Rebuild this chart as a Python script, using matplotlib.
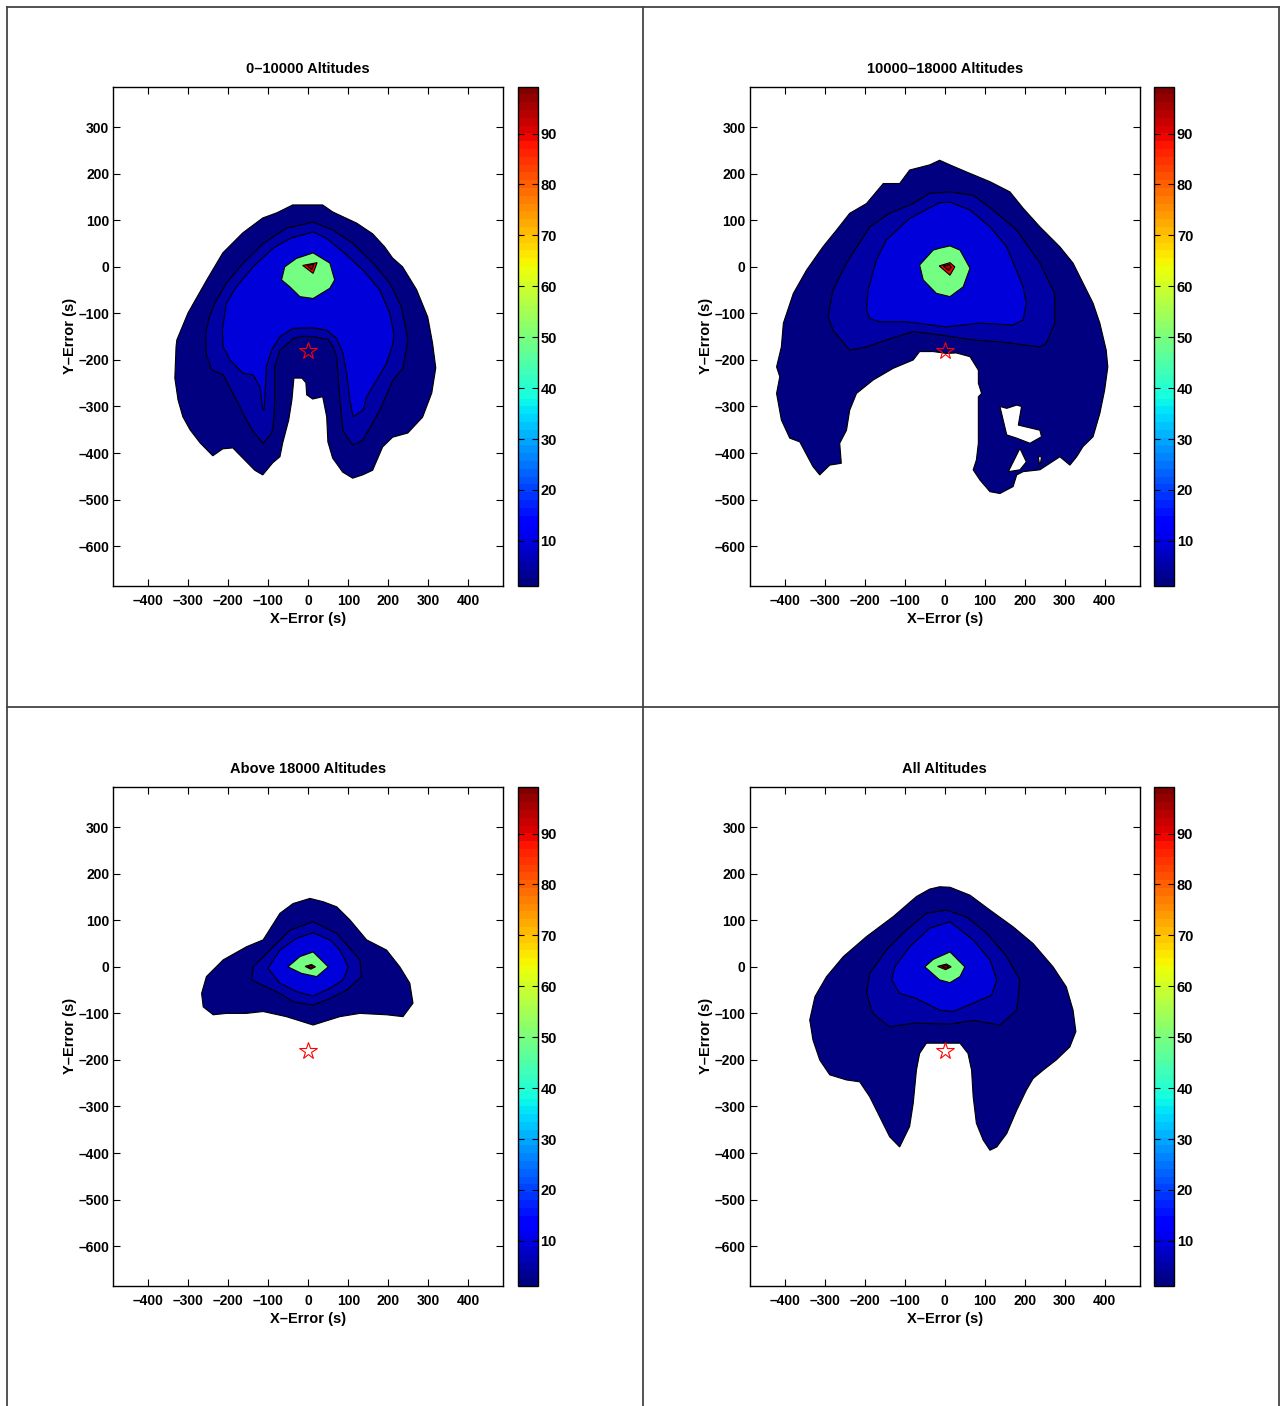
import matplotlib
matplotlib.use("Agg")
import matplotlib.pyplot as plt
from matplotlib.lines import Line2D
from matplotlib.colors import Normalize
from matplotlib.cm import ScalarMappable
from matplotlib.ticker import FuncFormatter

plt.rcParams['font.family'] = ['Liberation Sans', 'DejaVu Sans']
plt.rcParams['font.weight'] = 'bold'
plt.rcParams['font.size'] = 10

# contour levels (percent of hits) and colour range
levels = [1.2, 5, 10, 50, 90, 95]
c_min, c_max = 1.2, 99.2
x_ticks = [-400, -300, -200, -100, 0, 100, 200, 300, 400]
y_ticks = [-600, -500, -400, -300, -200, -100, 0, 100, 200, 300]
cbar_ticks = [10, 20, 30, 40, 50, 60, 70, 80, 90]
x_range = (-488, 488)
y_range = (-685, 387)
star_xy = (0, -180)

titles = ['0\u201310000 Altitudes', '10000\u201318000 Altitudes',
          'Above 18000 Altitudes', 'All Altitudes']

# ---- 0-10000 ----
low_l1 = [(-39, 133), (36, 133), (61, 118), (121, 94), (161, 71), (191, 43), (211, 19),
          (236, 0), (271, -49), (299, -108), (311, -164), (319, -217), (309, -271),
          (286, -323), (249, -357), (211, -366), (186, -387), (161, -437), (136, -447),
          (111, -454), (86, -441), (61, -411), (49, -376), (46, -322), (36, -279),
          (11, -284), (-4, -275), (-6, -249), (-16, -239), (-36, -239), (-41, -286),
          (-49, -329), (-64, -378), (-71, -408), (-89, -421), (-114, -447), (-134, -437),
          (-189, -389), (-214, -391), (-239, -406), (-271, -378), (-296, -350),
          (-314, -322), (-326, -286), (-334, -239), (-331, -172), (-329, -157),
          (-301, -99), (-254, -28), (-214, 30), (-164, 73), (-114, 105), (-79, 116)]
low_l5 = [(12, 96), (62, 79), (112, 50), (162, 8), (204, -35), (233, -86), (246, -143),
          (249, -157), (237, -218), (212, -243), (179, -308), (146, -358), (137, -372),
          (112, -383), (96, -365), (87, -351), (79, -286), (71, -193), (62, -172),
          (50, -156), (12, -150), (-13, -149), (-38, -154), (-71, -179), (-84, -215),
          (-84, -286), (-88, -343), (-92, -358), (-113, -379), (-134, -358), (-155, -329),
          (-180, -286), (-213, -232), (-242, -221), (-255, -189), (-257, -143),
          (-247, -107), (-234, -78), (-205, -35), (-163, 8), (-113, 50), (-55, 83)]
low_l10 = [(12, 75), (46, 61), (87, 32), (137, -7), (179, -50), (204, -100), (214, -143),
           (212, -164), (196, -207), (171, -243), (146, -279), (137, -308), (112, -322),
           (104, -286), (96, -229), (87, -186), (71, -154), (46, -136), (12, -131),
           (-38, -132), (-71, -150), (-92, -179), (-105, -215), (-109, -286),
           (-111, -308), (-115, -301), (-121, -258), (-138, -232), (-163, -229),
           (-196, -200), (-213, -172), (-215, -136), (-205, -78), (-180, -43),
           (-138, 0), (-88, 40), (-46, 61)]
low_l50 = [(12, 30), (54, 8), (66, -28), (54, -46), (12, -68), (-21, -64), (-46, -43),
           (-67, -28), (-59, 0), (-30, 18)]
low_l90 = [(-14, 3), (22, 9), (12, -14)]
low_l95 = [(-3, 3), (14, 6), (9, -6)]

# ---- 10000-18000 ----
mid_l1 = [(-13, 229), (13, 219), (54, 204), (113, 183), (163, 161), (196, 126), (238, 86),
          (288, 43), (321, 8), (346, -35), (371, -78), (388, -121), (404, -179),
          (408, -215), (400, -265), (388, -315), (371, -365), (346, -386), (330, -408),
          (313, -426), (288, -408), (238, -436), (196, -440), (180, -447), (171, -472),
          (138, -487), (113, -483), (88, -458), (71, -436), (79, -415), (84, -379),
          (84, -279), (92, -272), (84, -250), (84, -222), (63, -193), (29, -185),
          (4, -186), (-29, -182), (-63, -182), (-79, -200), (-129, -218), (-179, -243),
          (-221, -272), (-238, -308), (-246, -351), (-263, -379), (-259, -422),
          (-288, -426), (-313, -447), (-330, -429), (-363, -376), (-388, -368),
          (-409, -329), (-421, -272), (-413, -236), (-421, -215), (-409, -172),
          (-404, -121), (-379, -57), (-346, -7), (-305, 43), (-271, 79), (-238, 115),
          (-196, 136), (-154, 179), (-113, 179), (-88, 208), (-38, 219)]
mid_hole1 = [(138, -300), (155, -304), (180, -297), (192, -300), (184, -340), (238, -351),
             (242, -365), (213, -379), (180, -368), (155, -361), (150, -343)]
mid_hole2 = [(188, -390), (204, -419), (188, -436), (159, -440), (180, -404)]
mid_hole3 = [(234, -408), (242, -408), (238, -429)]
mid_l5 = [(13, 161), (-38, 158), (-79, 136), (-138, 115), (-188, 86), (-246, 8),
          (-280, -50), (-292, -107), (-280, -136), (-238, -179), (-196, -172),
          (-146, -157), (-79, -139), (-13, -146), (71, -157), (138, -161), (238, -172),
          (254, -164), (275, -121), (275, -57), (238, 8), (180, 79), (121, 122), (71, 154)]
mid_l10 = [(13, 139), (-13, 138), (-88, 104), (-146, 58), (-171, 15), (-192, -50),
           (-196, -93), (-188, -111), (-163, -118), (-96, -118), (4, -129), (88, -121),
           (171, -125), (196, -114), (204, -78), (196, -43), (155, 43), (113, 86), (63, 122)]
mid_l50 = [(13, 45), (38, 36), (63, -3), (46, -43), (13, -64), (-21, -57), (-54, -28),
           (-63, 4), (-29, 36), (-13, 40)]
mid_l90 = [(-14, 2), (13, 9), (25, 0), (13, -18)]
mid_l95 = [(-4, 2), (12, 5), (16, -1), (10, -8)]

# ---- above 18000 ----
high_l1 = [(4, 147), (37, 140), (71, 129), (104, 101), (146, 58), (196, 36), (229, 0),
           (254, -35), (262, -78), (237, -107), (196, -103), (129, -100), (79, -107),
           (12, -125), (-55, -107), (-113, -96), (-155, -100), (-205, -100), (-238, -103),
           (-263, -86), (-267, -57), (-255, -21), (-213, 15), (-155, 43), (-113, 58),
           (-71, 115), (-38, 136)]
high_l5 = [(12, 97), (71, 72), (129, 15), (133, -21), (96, -50), (54, -68), (12, -82),
           (-38, -75), (-71, -57), (-142, -28), (-138, 0), (-96, 36), (-46, 79)]
high_l10 = [(12, 73), (54, 58), (79, 36), (100, 0), (87, -28), (54, -46), (12, -63),
            (-30, -53), (-71, -35), (-101, -3), (-71, 36), (-30, 61)]
high_l50 = [(12, 32), (50, 0), (21, -21), (-17, -14), (-51, 0), (-21, 22)]
high_l90 = [(-8, 1), (8, 5), (18, 0), (6, -5)]
high_l95 = [(-2, 1), (8, 3), (12, 0), (5, -3)]

# ---- all altitudes ----
all_l1 = [(-13, 172), (13, 171), (63, 154), (113, 122), (171, 86), (221, 50), (271, 0),
          (304, -43), (321, -93), (328, -139), (313, -172), (279, -200), (246, -222),
          (221, -240), (204, -265), (180, -308), (155, -358), (130, -387), (113, -394),
          (96, -372), (79, -336), (71, -279), (67, -222), (58, -186), (38, -164),
          (-46, -164), (-63, -186), (-71, -222), (-79, -293), (-88, -343), (-113, -387),
          (-138, -365), (-163, -322), (-188, -279), (-213, -247), (-246, -243),
          (-288, -232), (-313, -200), (-330, -157), (-338, -114), (-325, -64),
          (-296, -21), (-254, 22), (-196, 65), (-129, 108), (-71, 151), (-38, 167)]
all_l5 = [(4, 122), (-46, 115), (-96, 79), (-146, 36), (-188, -14), (-196, -57),
          (-180, -100), (-138, -129), (-79, -121), (13, -123), (71, -115), (138, -125),
          (180, -93), (188, -28), (155, 22), (105, 72), (54, 107)]
all_l10 = [(13, 97), (-38, 83), (-88, 43), (-125, 0), (-133, -28), (-113, -57),
           (-71, -68), (-13, -93), (21, -96), (71, -78), (117, -61), (130, -28),
           (113, 15), (71, 58)]
all_l50 = [(13, 32), (50, 0), (38, -21), (13, -34), (-13, -28), (-50, 0), (-29, 16)]
all_l90 = [(-18, 1), (4, 6), (16, 0), (2, -6)]
all_l95 = [(-8, 1), (4, 3), (10, 0), (2, -3)]

panels = [
    [low_l1, low_l5, low_l10, low_l50, low_l90, low_l95],
    [mid_l1, mid_l5, mid_l10, mid_l50, mid_l90, mid_l95],
    [high_l1, high_l5, high_l10, high_l50, high_l90, high_l95],
    [all_l1, all_l5, all_l10, all_l50, all_l90, all_l95],
]
holes = [[], [mid_hole1, mid_hole2, mid_hole3], [], []]

cmap = plt.get_cmap('jet', 64)
norm = Normalize(c_min, c_max)

# negative tick values drawn with a dash like the rest of the labels
dash_fmt = FuncFormatter(lambda v, pos: ('%d' % v).replace('-', '\u2013'))

fig = plt.figure(figsize=(12.82, 14.06), dpi=100)
W, H = 1282.0, 1406.0

# axes boxes in pixels: left, top
origins = [(113.3, 86.7), (749.8, 86.7), (113.3, 786.7), (749.8, 786.7)]
ax_w, ax_h = 390.0, 499.0
cb_dx, cb_w = 404.4, 20.0

for i, (left, top) in enumerate(origins):
    ax = fig.add_axes([left / W, (H - top - ax_h) / H, ax_w / W, ax_h / H])
    for lev, poly in zip(levels, panels[i]):
        xs = [p[0] for p in poly]
        ys = [p[1] for p in poly]
        ax.fill(xs, ys, facecolor=cmap(norm(lev)), edgecolor='black', linewidth=0.8)
        if lev == levels[0]:
            for hole in holes[i]:
                ax.fill([p[0] for p in hole], [p[1] for p in hole],
                        facecolor='white', edgecolor='black', linewidth=0.8)
    ax.plot(star_xy[0], star_xy[1], marker='*', markersize=13, markerfacecolor='none',
            markeredgecolor='red', markeredgewidth=0.8, linestyle='none')
    ax.set_xlim(x_range)
    ax.set_ylim(y_range)
    ax.set_xticks(x_ticks)
    ax.set_yticks(y_ticks)
    ax.xaxis.set_major_formatter(dash_fmt)
    ax.yaxis.set_major_formatter(dash_fmt)
    ax.tick_params(direction='in', top=True, right=True, length=5, width=0.8,
                   labelsize=10)
    ax.tick_params(axis='x', pad=6)
    ax.tick_params(axis='y', pad=3)
    for s in ax.spines.values():
        s.set_linewidth(1.0)
    ax.set_title(titles[i], fontsize=10.5, fontweight='bold', pad=10)
    ax.set_xlabel('X\u2013Error (s)', fontsize=10.5, fontweight='bold', labelpad=3)
    ax.set_ylabel('Y\u2013Error (s)', fontsize=10.5, fontweight='bold', labelpad=1)

    cax = fig.add_axes([(left + cb_dx) / W, (H - top - ax_h) / H, cb_w / W, ax_h / H])
    cb = fig.colorbar(ScalarMappable(norm=norm, cmap=cmap), cax=cax, ticks=cbar_ticks)
    cb.outline.set_linewidth(1.0)
    cax.tick_params(direction='in', left=True, right=True, length=4, width=0.8,
                    labelsize=10.5, pad=2)

# panel frames
frame = dict(color='#444444', linewidth=1.3)
fig.add_artist(Line2D([7 / W, 7 / W], [0, 1 - 7 / H], transform=fig.transFigure, **frame))
fig.add_artist(Line2D([1279 / W, 1279 / W], [0, 1 - 7 / H], transform=fig.transFigure, **frame))
fig.add_artist(Line2D([7 / W, 1279 / W], [1 - 7 / H, 1 - 7 / H], transform=fig.transFigure, **frame))
fig.add_artist(Line2D([643 / W, 643 / W], [0, 1 - 7 / H], transform=fig.transFigure, **frame))
fig.add_artist(Line2D([7 / W, 1279 / W], [1 - 707 / H, 1 - 707 / H], transform=fig.transFigure, **frame))

fig.savefig('out.png', dpi=100)
